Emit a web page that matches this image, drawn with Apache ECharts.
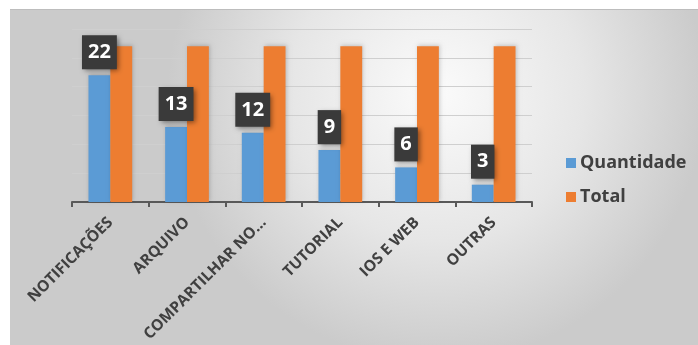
<!DOCTYPE html>
<html>
<head>
<meta charset="utf-8">
<style>
  html, body { margin: 0; padding: 0; background: #ffffff; }
  #chart { width: 698px; height: 345px; }
</style>
<script src="https://cdn.jsdelivr.net/npm/echarts@6/dist/echarts.min.js"></script>
</head>
<body>
<div id="chart"></div>
<script>
// Categories and series values
const categories = ['NOTIFICAÇÕES', 'ARQUIVO', 'COMPARTILHAR NO…', 'TUTORIAL', 'IOS E WEB', 'OUTRAS'];
const quantidade = [22, 13, 12, 9, 6, 3];
const total = [27, 27, 27, 27, 27, 27];
const seriesNames = ['Quantidade', 'Total'];

const chart = echarts.init(document.getElementById('chart'), null, { renderer: 'canvas' });

const option = {
  backgroundColor: '#ffffff',
  animation: false,
  graphic: [{
    type: 'rect',
    z: -10,
    silent: true,
    shape: { x: 10, y: 9, width: 688, height: 336 },
    style: {
      fill: new echarts.graphic.RadialGradient(0.62, 0.25, 0.8, [
        { offset: 0, color: '#fbfbfb' },
        { offset: 0.55, color: '#e6e6e6' },
        { offset: 1, color: '#cbcbcb' }
      ])
    }
  }, {
    type: 'line',
    z: -9,
    silent: true,
    shape: { x1: 10, y1: 9.5, x2: 698, y2: 9.5 },
    style: { stroke: '#bdbdbd', lineWidth: 1 }
  }],
  grid: { left: 72, right: 166, top: 29, bottom: 143, containLabel: false },
  legend: {
    orient: 'vertical',
    left: 561,
    top: 149,
    itemWidth: 10,
    itemHeight: 10,
    itemGap: 16,
    icon: 'rect',
    data: seriesNames,
    textStyle: { fontFamily: 'Open Sans', fontSize: 18, fontWeight: 'bold', color: '#404040', padding: [0, 0, 0, -1] }
  },
  xAxis: {
    type: 'category',
    data: categories,
    boundaryGap: true,
    axisLine: { lineStyle: { color: '#595959', width: 2 } },
    axisTick: { show: true, length: 5, lineStyle: { color: '#595959', width: 2 } },
    axisLabel: {
      rotate: 45,
      interval: 0,
      margin: 18,
      fontFamily: 'Open Sans',
      fontSize: 15.5,
      fontWeight: 'bold',
      color: '#404040'
    }
  },
  yAxis: {
    type: 'value',
    min: 0,
    max: 30,
    interval: 5,
    axisLine: { show: false },
    axisTick: { show: false },
    axisLabel: { show: false },
    splitLine: { lineStyle: { color: '#cfcfcf', width: 1 } }
  },
  series: [{
    name: seriesNames[0],
    type: 'bar',
    data: quantidade,
    barGap: '0%',
    barCategoryGap: '43%',
    itemStyle: { color: '#5b9bd5', shadowColor: 'rgba(0,0,0,0.18)', shadowBlur: 4, shadowOffsetX: 1, shadowOffsetY: -1 },
    label: {
      show: true,
      position: 'top',
      distance: 6,
      fontFamily: 'Open Sans',
      fontSize: 20,
      fontWeight: 'bold',
      color: '#ffffff',
      backgroundColor: '#3a3a3a',
      padding: [7, 6, 7, 6],
      lineHeight: 20,
      shadowColor: 'rgba(0,0,0,0.45)',
      shadowBlur: 5,
      shadowOffsetX: 2,
      shadowOffsetY: 2
    }
  }, {
    name: seriesNames[1],
    type: 'bar',
    data: total,
    barGap: '0%',
    barCategoryGap: '43%',
    itemStyle: { color: '#ed7d31', shadowColor: 'rgba(0,0,0,0.18)', shadowBlur: 4, shadowOffsetX: 1, shadowOffsetY: -1 }
  }]
};

chart.setOption(option);
</script>
</body>
</html>
